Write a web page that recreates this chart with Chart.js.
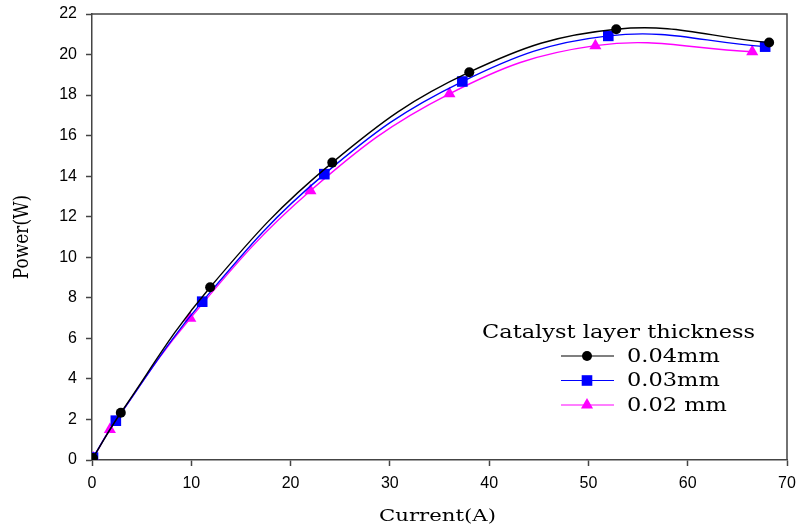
<!DOCTYPE html>
<html>
<head>
<meta charset="utf-8">
<script src="https://cdn.jsdelivr.net/npm/chart.js@4"></script>
<style>
  html, body { margin: 0; padding: 0; background: #fff; }
  #wrap { width: 797px; height: 529px; }
</style>
</head>
<body>
<div id="wrap"><canvas id="powerChart"></canvas></div>
<script>
const labels = ['0.04mm', '0.03mm', '0.02 mm'];
const current04 = [0.1, 2.9, 11.9, 24.2, 38.0, 52.8, 68.2];
const power04 = [0.1, 2.33, 8.52, 14.67, 19.13, 21.25, 20.59];
const current03 = [0.1, 2.4, 11.1, 23.4, 37.3, 52.0, 67.8];
const power03 = [0.12, 1.94, 7.81, 14.1, 18.67, 20.92, 20.39];
const current02 = [0.15, 1.8, 9.9, 22.0, 36.0, 50.7, 66.5];
const power02 = [0.1, 1.5, 6.99, 13.28, 18.06, 20.44, 20.14];
const xTicks = [0, 10, 20, 30, 40, 50, 60, 70];
const yTicks = [0, 2, 4, 6, 8, 10, 12, 14, 16, 18, 20, 22];
const xTitle = 'Current(A)';
const yTitle = 'Power(W)';

function pts(xs, ys) {
    return xs.map(function (x, i) { return { x: x, y: ys[i] }; });
}

const axisColor = '#444';
const serif = '"DejaVu Serif", serif';
const sans = '"Liberation Sans", Arial, sans-serif';

// wide serif text, as in the original figure
function wideText(ctx, txt, x, y, rot) {
    ctx.save();
    ctx.translate(x, y);
    ctx.scale(1.25, 1);
    if (rot) ctx.rotate(rot);
    ctx.fillText(txt, 0, 0);
    ctx.restore();
}

// frame, axis titles and legend
const framePlugin = {
    id: 'frame',
    afterDatasetsDraw: function (chart) {
        const ctx = chart.ctx;
        const a = chart.chartArea;
        ctx.save();
        ctx.strokeStyle = axisColor;
        ctx.lineWidth = 1.5;
        ctx.beginPath();
        ctx.moveTo(a.left, a.top);
        ctx.lineTo(a.right, a.top);
        ctx.lineTo(a.right, a.bottom);
        ctx.stroke();

        ctx.fillStyle = '#000';
        ctx.textBaseline = 'middle';
        ctx.font = '17px ' + serif;
        ctx.textAlign = 'center';
        wideText(ctx, xTitle, (a.left + a.right) / 2 - 2, 517);
        wideText(ctx, yTitle, 22, (a.top + a.bottom) / 2, -Math.PI / 2);

        // legend
        ctx.font = '18px ' + serif;
        ctx.textAlign = 'left';
        wideText(ctx, 'Catalyst layer thickness', 482, 333);
        chart.data.datasets.forEach(function (ds, i) {
            const y = 356 + i * 24.5;
            ctx.strokeStyle = ds.borderColor;
            ctx.lineWidth = 1.2;
            ctx.beginPath();
            ctx.moveTo(561, y);
            ctx.lineTo(614, y);
            ctx.stroke();
            ctx.fillStyle = ds.pointBackgroundColor;
            Chart.helpers.drawPoint(ctx, { pointStyle: ds.pointStyle, radius: ds.pointRadius, borderWidth: 0 }, 587, y);
            ctx.fillStyle = '#000';
            wideText(ctx, ds.label, 627, y + 1);
        });
        ctx.restore();
    }
};

const ctx = document.getElementById('powerChart').getContext('2d');
new Chart(ctx, {
    type: 'line',
    data: {
        datasets: [{
            label: labels[0],
            data: pts(current04, power04),
            borderColor: '#000',
            pointBackgroundColor: '#000',
            pointStyle: 'circle',
            pointRadius: 5
        }, {
            label: labels[1],
            data: pts(current03, power03),
            borderColor: '#0000ff',
            pointBackgroundColor: '#0000ff',
            pointStyle: 'rect',
            pointRadius: 7.5
        }, {
            label: labels[2],
            data: pts(current02, power02),
            borderColor: '#ff00ff',
            pointBackgroundColor: '#ff00ff',
            pointStyle: 'triangle',
            pointRadius: 7
        }].map(function (d) {
            d.borderWidth = 1.4;
            d.pointBorderWidth = 0;
            d.tension = 0.4;
            d.fill = false;
            return d;
        })
    },
    options: {
        responsive: true,
        maintainAspectRatio: false,
        animation: false,
        layout: { padding: { left: 0, top: 14, right: 10, bottom: 0 } },
        plugins: {
            legend: { display: false },
            tooltip: { enabled: false }
        },
        scales: {
            x: {
                type: 'linear',
                min: 0,
                max: 70,
                afterBuildTicks: function (s) { s.ticks = xTicks.map(function (v) { return { value: v }; }); },
                afterFit: function (s) { s.height = 69; s.paddingLeft = 0; s.paddingRight = 0; },
                grid: { drawOnChartArea: false, drawTicks: true, tickLength: 6, tickColor: axisColor, tickWidth: 1.5 },
                border: { color: axisColor, width: 1.5 },
                ticks: { color: '#000', padding: 8, font: { family: sans, size: 16 } }
            },
            y: {
                min: 0,
                max: 22,
                afterBuildTicks: function (s) { s.ticks = yTicks.map(function (v) { return { value: v }; }); },
                afterFit: function (s) { s.width = 92; s.paddingTop = 0; s.paddingBottom = 0; },
                grid: { drawOnChartArea: false, drawTicks: true, tickLength: 6, tickColor: axisColor, tickWidth: 1.5 },
                border: { color: axisColor, width: 1.5 },
                ticks: { color: '#000', padding: 9, font: { family: sans, size: 16 } }
            }
        }
    },
    plugins: [framePlugin]
});
</script>
</body>
</html>
